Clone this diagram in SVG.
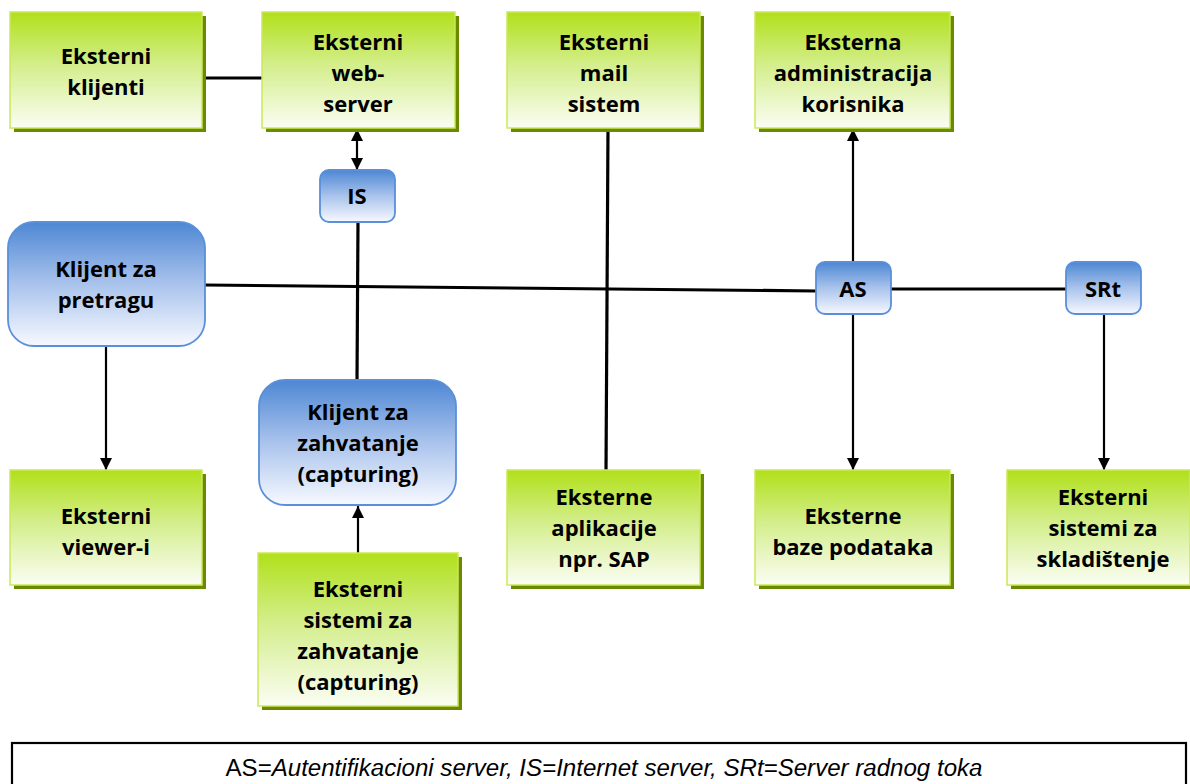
<svg xmlns="http://www.w3.org/2000/svg" width="1190" height="784" viewBox="0 0 1190 784">
  <defs>
    <linearGradient id="gGreen" x1="0" y1="0" x2="0" y2="1">
      <stop offset="0" stop-color="#b1e01a"/>
      <stop offset="0.45" stop-color="#d3ee8a"/>
      <stop offset="1" stop-color="#fbfdf4"/>
    </linearGradient>
    <linearGradient id="gBlue" x1="0" y1="0" x2="0" y2="1">
      <stop offset="0" stop-color="#4e87d4"/>
      <stop offset="0.5" stop-color="#a9c3ec"/>
      <stop offset="1" stop-color="#f7f9ff"/>
    </linearGradient>
    <marker id="arrow" markerWidth="12" markerHeight="14" refX="12" refY="7" orient="auto-start-reverse" markerUnits="userSpaceOnUse">
      <path d="M0,1 L12,7 L0,13 Z" fill="#000"/>
    </marker>
  </defs>
  <style>
    .shadow { fill: #6a8a00; }
    .green { fill: url(#gGreen); stroke: #cbe85a; stroke-width: 1.5; }
    .blue { fill: url(#gBlue); stroke: #5a8fda; stroke-width: 1.8; }
    .lbl { font-family: "Open Sans", "Liberation Sans", sans-serif; font-weight: 700; font-size: 22px; fill: #000; text-anchor: middle; }
    .wire { stroke: #000; fill: none; }
    .thick { stroke-width: 3.2; }
    .thin { stroke-width: 2.2; }
    .note { font-family: "Liberation Sans", Arial, sans-serif; font-size: 23px; fill: #000; text-anchor: middle; }
  </style>

  <rect width="1190" height="784" fill="#fff"/>

  <!-- connectors -->
  <g id="connectors">
    <line class="wire thick" x1="202" y1="78" x2="262" y2="78"/>
    <line class="wire thin" x1="357" y1="129" x2="357" y2="170" marker-start="url(#arrow)" marker-end="url(#arrow)"/>
    <line class="wire thick" x1="358" y1="222" x2="357" y2="380"/>
    <line class="wire thick" x1="205" y1="285" x2="816" y2="291"/>
    <line class="wire thick" x1="891" y1="289" x2="1066" y2="289"/>
    <line class="wire thick" x1="608" y1="128" x2="606" y2="471"/>
    <line class="wire thin" x1="853" y1="262" x2="853" y2="129" marker-end="url(#arrow)"/>
    <line class="wire thin" x1="853" y1="315" x2="853" y2="470" marker-end="url(#arrow)"/>
    <line class="wire thin" x1="1104" y1="315" x2="1104" y2="470" marker-end="url(#arrow)"/>
    <line class="wire thin" x1="106" y1="347" x2="106" y2="470" marker-end="url(#arrow)"/>
    <line class="wire thin" x1="358" y1="553" x2="358" y2="506" marker-end="url(#arrow)"/>
  </g>

  <!-- external systems (green) -->
  <g id="eksterni-klijenti">
    <rect class="shadow" x="14" y="16" width="192" height="116"/>
    <rect class="green" x="10" y="12" width="192" height="116"/>
    <text class="lbl"><tspan x="106" y="64">Eksterni</tspan><tspan x="106" y="95">klijenti</tspan></text>
  </g>
  <g id="eksterni-web-server">
    <rect class="shadow" x="266" y="16" width="193" height="116"/>
    <rect class="green" x="262" y="12" width="193" height="116"/>
    <text class="lbl"><tspan x="358" y="50">Eksterni</tspan><tspan x="358" y="81">web-</tspan><tspan x="358" y="112">server</tspan></text>
  </g>
  <g id="eksterni-mail-sistem">
    <rect class="shadow" x="511" y="16" width="193" height="116"/>
    <rect class="green" x="507" y="12" width="193" height="116"/>
    <text class="lbl"><tspan x="604" y="50">Eksterni</tspan><tspan x="604" y="81">mail</tspan><tspan x="604" y="112">sistem</tspan></text>
  </g>
  <g id="eksterna-administracija">
    <rect class="shadow" x="759" y="16" width="195" height="116"/>
    <rect class="green" x="755" y="12" width="195" height="116"/>
    <text class="lbl"><tspan x="853" y="50">Eksterna</tspan><tspan x="853" y="81">administracija</tspan><tspan x="853" y="112">korisnika</tspan></text>
  </g>
  <g id="eksterni-viewer">
    <rect class="shadow" x="14" y="474" width="192" height="115"/>
    <rect class="green" x="10" y="470" width="192" height="115"/>
    <text class="lbl"><tspan x="106" y="524">Eksterni</tspan><tspan x="106" y="555">viewer-i</tspan></text>
  </g>
  <g id="eksterni-sistemi-zahvatanje">
    <rect class="shadow" x="262" y="557" width="200" height="153"/>
    <rect class="green" x="258" y="553" width="200" height="153"/>
    <text class="lbl"><tspan x="358" y="597">Eksterni</tspan><tspan x="358" y="628">sistemi za</tspan><tspan x="358" y="659">zahvatanje</tspan><tspan x="358" y="690">(capturing)</tspan></text>
  </g>
  <g id="eksterne-aplikacije">
    <rect class="shadow" x="511" y="474" width="193" height="115"/>
    <rect class="green" x="507" y="470" width="193" height="115"/>
    <text class="lbl"><tspan x="604" y="505">Eksterne</tspan><tspan x="604" y="536">aplikacije</tspan><tspan x="604" y="567">npr. SAP</tspan></text>
  </g>
  <g id="eksterne-baze">
    <rect class="shadow" x="759" y="474" width="195" height="115"/>
    <rect class="green" x="755" y="470" width="195" height="115"/>
    <text class="lbl"><tspan x="853" y="524">Eksterne</tspan><tspan x="853" y="555">baze podataka</tspan></text>
  </g>
  <g id="eksterni-sistemi-skladistenje">
    <rect class="shadow" x="1011" y="474" width="183" height="115"/>
    <rect class="green" x="1007" y="470" width="183" height="115"/>
    <text class="lbl"><tspan x="1103" y="505">Eksterni</tspan><tspan x="1103" y="536">sistemi za</tspan><tspan x="1103" y="567">skladištenje</tspan></text>
  </g>

  <!-- internal servers and clients (blue) -->
  <g id="is">
    <rect class="blue" x="320" y="170" width="75" height="52" rx="9"/>
    <text class="lbl" x="357" y="204">IS</text>
  </g>
  <g id="klijent-pretraga">
    <rect class="blue" x="8" y="222" width="197" height="124" rx="26"/>
    <text class="lbl"><tspan x="106" y="277">Klijent za</tspan><tspan x="106" y="308">pretragu</tspan></text>
  </g>
  <g id="as">
    <rect class="blue" x="816" y="262" width="75" height="52" rx="9"/>
    <text class="lbl" x="853" y="297">AS</text>
  </g>
  <g id="srt">
    <rect class="blue" x="1066" y="262" width="75" height="52" rx="9"/>
    <text class="lbl" x="1103" y="297">SRt</text>
  </g>
  <g id="klijent-zahvatanje">
    <rect class="blue" x="259" y="380" width="197" height="125" rx="26"/>
    <text class="lbl"><tspan x="358" y="420">Klijent za</tspan><tspan x="358" y="451">zahvatanje</tspan><tspan x="358" y="482">(capturing)</tspan></text>
  </g>

  <!-- legend -->
  <g id="legend">
    <rect x="12" y="743" width="1174" height="60" fill="#fff" stroke="#000" stroke-width="2.2"/>
    <text class="note" x="604" y="776" textLength="757" lengthAdjust="spacingAndGlyphs">AS=<tspan font-style="italic">Autentifikacioni server, IS=Internet server, SRt=Server radnog toka</tspan></text>
  </g>
</svg>
